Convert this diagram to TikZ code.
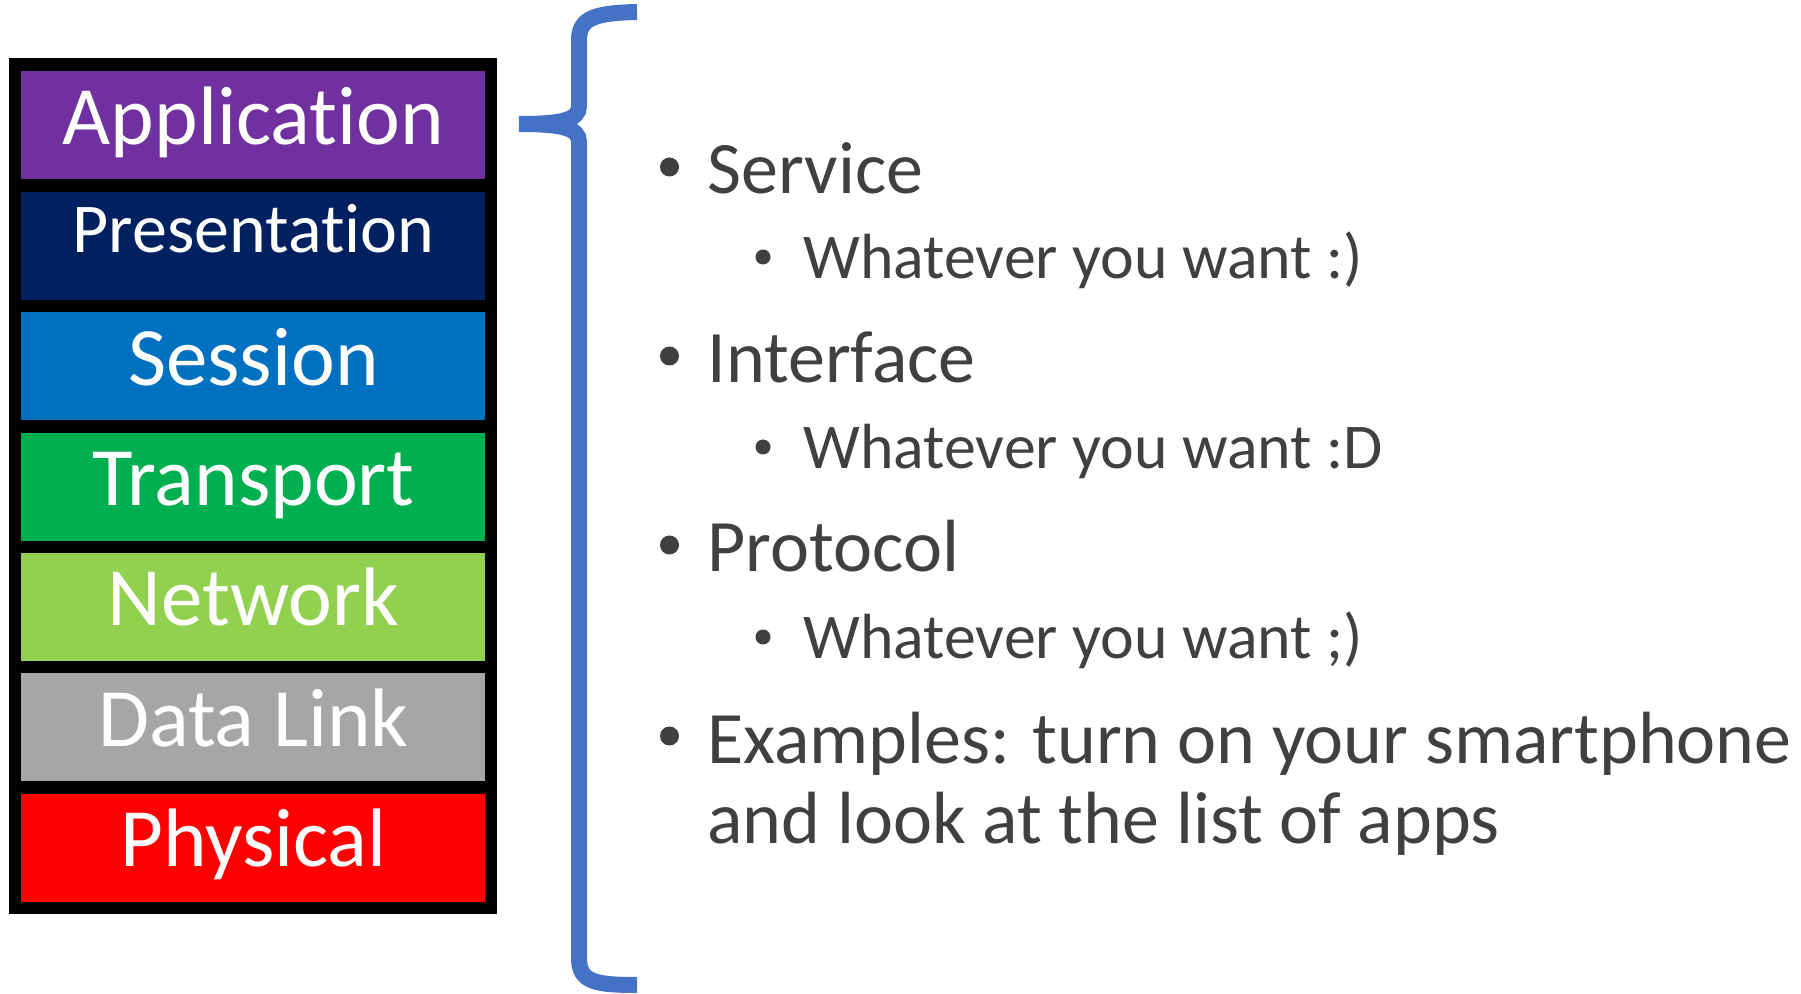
\documentclass[tikz,border=0pt]{standalone}
\usepackage{fontspec}
\setmainfont{Carlito}[Ligatures={NoCommon}]
\usepackage{xcolor}
\usepackage{tikz}
\usetikzlibrary{positioning}
\definecolor{appcol}{RGB}{112,48,160}
\definecolor{prescol}{RGB}{0,32,96}
\definecolor{sesscol}{RGB}{0,112,192}
\definecolor{transcol}{RGB}{0,176,80}
\definecolor{netcol}{RGB}{146,208,80}
\definecolor{linkcol}{RGB}{166,166,166}
\definecolor{physcol}{RGB}{255,0,0}
\definecolor{bracecol}{RGB}{68,114,196}
\definecolor{textgray}{RGB}{64,64,64}

\begin{document}
\begin{tikzpicture}[
		x=0.5pt, y=-0.5pt,
		node distance=5.8pt,
		layer/.style={anchor=north west, inner sep=0pt, minimum width=232pt,
			text height=36.5pt, text depth=17.5pt, text=white,
			font=\fontsize{41.5pt}{44pt}\selectfont},
		item/.style={anchor=base west, inner sep=0pt, text=textgray,
			font=\fontsize{37pt}{40pt}\selectfont},
		subitem/.style={item, font=\fontsize{31.9pt}{36pt}\selectfont},
		brace/.style={draw=bracecol, line width=8pt, line cap=butt}
	]
	\useasboundingbox (0,0) rectangle (1801,994);

	% black frame behind the stack
	\fill[black] (9,58) rectangle (497,914);

	\node[layer, fill=appcol] (app) at (21,71) {Application};
	\node[layer, fill=prescol, below=of app, text height=30.5pt, text depth=23.5pt,
		font=\fontsize{35pt}{38pt}\selectfont] (pres) {Presentation};
	\node[layer, fill=sesscol, below=of pres] (sess) {Session};
	\node[layer, fill=transcol, below=of sess] (trans) {Transport};
	\node[layer, fill=netcol, below=of trans] (net) {Network};
	\node[layer, fill=linkcol, below=of net] (link) {Data Link};
	\node[layer, fill=physcol, below=of link] (phys) {Physical};

	% brace
	\coordinate (tip) at (519,124);
	\draw[brace] (637,12) .. controls (595,13) and (579,18) .. (579,40)
		-- (579,106) .. controls (579,120) and (562,124) .. (tip);
	\draw[brace] (tip) .. controls (562,124) and (579,128) .. (579,142)
		-- (579,958) .. controls (579,982) and (595,985) .. (637,985);

	% bullets
	\node[item] (service) at (707,194) {Service};
	\node[subitem] (service2) at (803,279) {Whatever you want :)};
	\node[item] (iface) at (707,383) {Interface};
	\node[subitem] (iface2) at (803,469) {Whatever you want :D};
	\node[item] (proto) at (707,572) {Protocol};
	\node[subitem] (proto2) at (803,659) {Whatever you want ;)};
	\node[item] (examples) at (707,763) {Examples: turn on your smartphone};
	\node[item] (examples2) at (707,843) {and look at the list of apps};

	\foreach \y in {167,356,545,736}
		\fill[textgray] (669.5,\y) circle[radius=4.75pt];
	\foreach \y in {257,447,637}
		\fill[textgray] (763,\y) circle[radius=3.75pt];

\end{tikzpicture}
\end{document}
